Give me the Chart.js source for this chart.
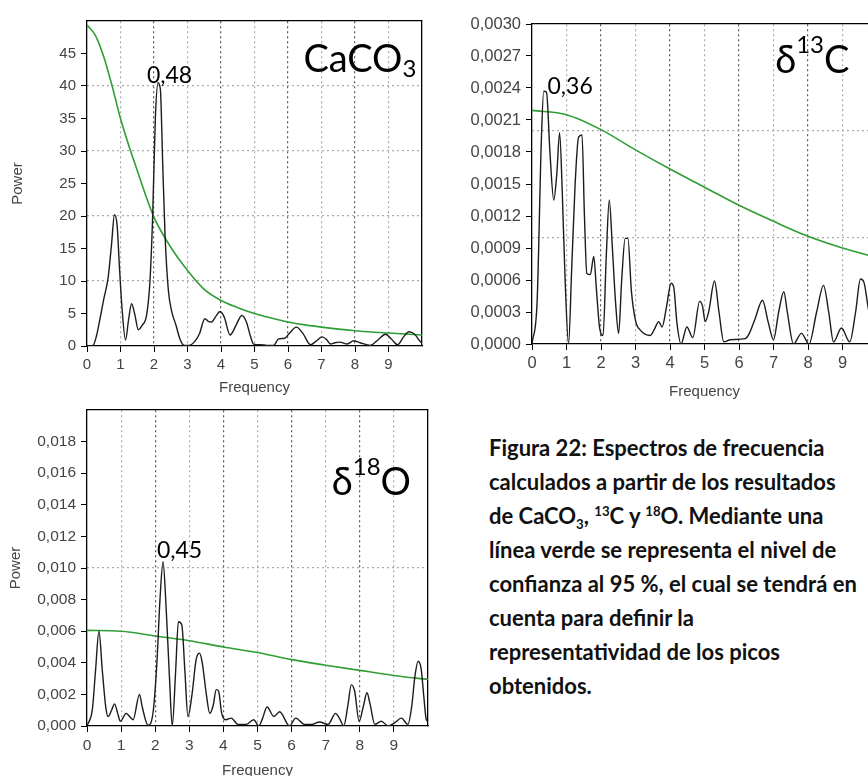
<!DOCTYPE html>
<html lang="es">
<head>
<meta charset="UTF-8">
<title>Espectros de frecuencia</title>
<script src="https://cdn.jsdelivr.net/npm/chart.js"></script>
<style>
  html, body { margin: 0; padding: 0; background: #fff; }
  body { width: 868px; height: 776px; overflow: hidden; position: relative; }
  canvas { position: absolute; }
  #c1 { left: 0; top: 0; }
  #c2 { left: 440px; top: 0; }
  #c3 { left: 0; top: 395px; }
  .caption {
    position: absolute; left: 489px; top: 431px;
    font-family: Lato, "Noto Sans", sans-serif; font-weight: bold;
    font-size: 22px; line-height: 34px; color: #111; white-space: nowrap;
  }
  .caption sub, .caption sup { font-size: 0.6em; line-height: 0; }
</style>
</head>
<body>
<canvas id="c1" width="440" height="395"></canvas>
<canvas id="c2" width="460" height="400"></canvas>
<canvas id="c3" width="440" height="384"></canvas>
<div class="caption">Figura 22: Espectros de frecuencia<br>calculados a partir de los resultados<br>de CaCO<sub>3</sub>, <sup>13</sup>C y <sup>18</sup>O. Mediante una<br>línea verde se representa el nivel de<br>confianza al 95 %, el cual se tendrá en<br>cuenta para definir la<br>representatividad de los picos<br>obtenidos.</div>

<script>
// --- CaCO3 spectrum ---
const freqCaCO3 = [0, 0.18, 0.28, 0.4, 0.5, 0.63, 0.73, 0.82, 0.9, 0.97, 1.05, 1.15, 1.24, 1.33, 1.43, 1.53, 1.65, 1.78, 1.88, 1.96, 2.04, 2.12, 2.19, 2.26, 2.33, 2.43, 2.53, 2.65, 2.78, 2.9, 3.05, 3.2, 3.35, 3.52, 3.62, 3.72, 3.85, 3.97, 4.1, 4.27, 4.45, 4.62, 4.75, 4.88, 4.97, 5.18, 5.37, 5.57, 5.72, 5.9, 6.05, 6.25, 6.45, 6.67, 6.85, 7.02, 7.15, 7.27, 7.4, 7.55, 7.77, 7.96, 8.15, 8.46, 8.7, 8.91, 9.1, 9.27, 9.45, 9.61, 9.78, 9.96, 10];
const powerCaCO3 = [0, 0.1, 1.5, 4.5, 7.2, 10.5, 15.5, 20.2, 18.5, 12, 5.5, 0.9, 4, 6.5, 4.8, 2.5, 3.2, 4.8, 10, 20, 35, 40.5, 39.5, 28, 17, 8.5, 5.3, 3.3, 1, 0.1, 0.1, 0.6, 1.8, 4.2, 3.8, 3.7, 4.6, 5.3, 4.4, 1.7, 3.2, 4.7, 3.8, 1.5, 0.3, 0.2, 0.1, 0.1, 1.1, 1.2, 2.0, 2.9, 1.9, 0.2, 0.8, 1.4, 1.0, 0.3, 0.5, 0.6, 0.3, 0.8, 0.5, 0.1, 1.0, 1.8, 1.0, 0.2, 1.4, 2.2, 1.8, 0.6, 0.5];
const confFreqCaCO3 = [0, 0.25, 0.5, 0.75, 1, 1.25, 1.5, 1.75, 2, 2.5, 3, 3.5, 4, 4.5, 5, 5.5, 6, 6.5, 7, 7.5, 8, 8.5, 9, 9.5, 10];
const confCaCO3 = [49.4, 47.8, 44.5, 40, 35, 30.8, 27, 23.2, 19.8, 15.2, 11.6, 8.7, 7.0, 5.9, 5.0, 4.3, 3.7, 3.25, 2.9, 2.6, 2.35, 2.15, 2.0, 1.85, 1.7];

// --- d13C spectrum ---
const freqC13 = [0, 0.15, 0.27, 0.34, 0.42, 0.52, 0.63, 0.72, 0.8, 0.88, 0.96, 1.06, 1.15, 1.25, 1.35, 1.45, 1.52, 1.59, 1.69, 1.79, 1.87, 1.96, 2.06, 2.15, 2.24, 2.33, 2.42, 2.51, 2.6, 2.7, 2.78, 2.88, 3.0, 3.14, 3.43, 3.55, 3.67, 3.77, 3.9, 4.03, 4.11, 4.2, 4.32, 4.49, 4.66, 4.86, 4.94, 5.02, 5.12, 5.29, 5.42, 5.56, 5.75, 6.18, 6.3, 6.47, 6.68, 6.85, 7.0, 7.15, 7.3, 7.4, 7.58, 7.81, 8.03, 8.25, 8.45, 8.6, 8.74, 8.97, 9.21, 9.38, 9.52, 9.62, 9.74, 9.87, 10];
const powerC13 = [0, 0.00041, 0.0019, 0.00237, 0.00236, 0.0018, 0.00135, 0.0016, 0.00198, 0.0014, 0.0006, 0, 0.0007, 0.0015, 0.00194, 0.00196, 0.0012, 0.00066, 0.00065, 0.00082, 0.0005, 0.00015, 0.00008, 0.0008, 0.00135, 0.0009, 0.0004, 0.0001, 0.0006, 0.00099, 0.00099, 0.0005, 0.00022, 0.00013, 0.00008, 0.00014, 0.00021, 0.00016, 0.00035, 0.00057, 0.00053, 0.0002, 0, 0.00016, 0.00006, 0.0004, 0.00036, 0.00021, 0.0003, 0.00059, 0.0003, 0.00002, 0.00004, 0.00005, 0.0001, 0.00024, 0.00041, 0.0002, 0.00004, 0.0003, 0.00049, 0.0003, 0, 0.0001, 0, 0.0003, 0.00055, 0.0003, 0.00002, 0.00015, 0.00002, 0.0003, 0.00061, 0.00058, 0.00035, 0.0001, 0.00005];
const confFreqC13 = [0, 1, 2, 3, 4, 5, 6, 7, 8, 9, 10];
const confC13 = [0.00219, 0.00215, 0.00201, 0.00182, 0.00164, 0.00147, 0.0013, 0.00115, 0.00101, 0.0009, 0.00081];

// --- d18O spectrum ---
const freqO18 = [0, 0.16, 0.25, 0.35, 0.45, 0.55, 0.62, 0.72, 0.81, 0.9, 0.98, 1.15, 1.25, 1.35, 1.54, 1.62, 1.79, 1.94, 2.05, 2.14, 2.23, 2.32, 2.42, 2.5, 2.6, 2.68, 2.78, 2.87, 2.96, 3.08, 3.2, 3.3, 3.38, 3.5, 3.6, 3.7, 3.79, 3.86, 3.95, 4.07, 4.23, 4.43, 4.67, 4.89, 5.04, 5.15, 5.28, 5.48, 5.65, 5.94, 6.12, 6.38, 6.6, 6.82, 7.07, 7.29, 7.4, 7.53, 7.65, 7.75, 7.85, 7.98, 8.1, 8.21, 8.3, 8.44, 8.63, 8.83, 9.02, 9.22, 9.41, 9.52, 9.62, 9.71, 9.8, 9.88, 9.95, 10];
const powerO18 = [0, 0.0011, 0.0035, 0.006, 0.0035, 0.0012, 0.0006, 0.001, 0.0014, 0.0008, 0.0003, 0.0008, 0.0006, 0.0004, 0.002, 0.0012, 0.00005, 0.0009, 0.004, 0.008, 0.0104, 0.0075, 0.003, 0, 0.0035, 0.0066, 0.0064, 0.0035, 0.0006, 0.002, 0.0042, 0.0046, 0.004, 0.002, 0.0008, 0.0013, 0.0023, 0.0022, 0.0008, 0.0004, 0.0005, 0.0001, 0.0001, 0.0004, 0, 0.0005, 0.0012, 0.0006, 0.0009, 0, 0.0005, 0.0001, 0.0001, 0.00025, 0.0001, 0.0008, 0.0005, 0, 0.0013, 0.0026, 0.0022, 0.0003, 0.0012, 0.0021, 0.0014, 0.0001, 0.0003, 0, 0.0002, 0.0005, 0.0001, 0.0012, 0.0032, 0.0041, 0.0036, 0.0018, 0.0004, 0.0003];
const confFreqO18 = [0, 1, 2, 3, 4, 5, 6, 7, 8, 9, 10];
const confO18 = [0.00605, 0.006, 0.0057, 0.0054, 0.005, 0.00465, 0.0042, 0.00385, 0.00352, 0.0032, 0.00295];

const TICK_FONT = '"Liberation Sans", Arial, sans-serif';
const LABEL_FONT = 'Lato, "Noto Sans", sans-serif';

// draws the big panel labels and peak values at data positions
const textLabels = {
  id: 'textLabels',
  afterDraw(chart, args, opts) {
    const ctx = chart.ctx;
    const xs = chart.scales.x, ys = chart.scales.y;
    (opts.items || []).forEach(item => {
      let px = xs.getPixelForValue(item.x);
      const py = ys.getPixelForValue(item.y);
      ctx.save();
      ctx.fillStyle = '#000';
      ctx.textBaseline = 'alphabetic';
      ctx.textAlign = 'left';
      item.parts.forEach(p => {
        ctx.font = p.size + 'px ' + LABEL_FONT;
        ctx.fillText(p.text, px, py + (p.dy || 0));
        px += ctx.measureText(p.text).width;
      });
      ctx.restore();
    });
  }
};

function pts(xs, ys) {
  return xs.map((v, i) => ({ x: v, y: ys[i] }));
}

function makeSpectrum(id, cfg) {
  const tickFont = { family: TICK_FONT, size: cfg.tickSize };
  const titleFont = { family: TICK_FONT, size: cfg.titleSize, lineHeight: 1 };
  const scales = {
    x: {
      type: 'linear', min: 0, max: 10,
      afterBuildTicks: s => { s.ticks = s.ticks.filter(t => t.value < 10); },
      afterFit: s => { s.height = cfg.xHeight; },
      ticks: { stepSize: 1, color: '#444', font: tickFont, padding: 4 },
      grid: { drawOnChartArea: false, tickLength: 6, tickColor: '#000' },
      border: { color: '#000', width: 1.3 },
      title: { display: true, text: 'Frequency', color: '#444', font: titleFont, padding: { top: 0, bottom: cfg.xTitlePad } }
    },
    xg: {
      type: 'linear', position: 'top', min: 0, max: 10,
      afterFit: s => { s.height = 0; },
      ticks: { display: false, stepSize: 1 },
      grid: {
        drawTicks: false, lineWidth: 1.2,
        color: c => (c.tick.value <= 0 || c.tick.value >= 10) ? 'rgba(0,0,0,0)' : (c.tick.value % 2 === 0 ? '#555' : '#aaa')
      },
      border: { color: '#000', width: 1.3, dash: [2, 3] }
    },
    y: {
      type: 'linear', min: 0, max: cfg.yMax,
      afterBuildTicks: s => { s.ticks = s.ticks.filter(t => t.value <= cfg.yLabelMax + 1e-9); },
      afterFit: s => { s.width = cfg.yWidth; },
      ticks: {
        stepSize: cfg.yStep, color: '#444', font: tickFont, padding: 5,
        callback: v => v.toFixed(cfg.decimals).replace('.', ',')
      },
      grid: { drawOnChartArea: false, tickLength: 6, tickColor: '#000' },
      border: { color: '#000', width: 1.3 },
      title: { display: cfg.yTitle, text: 'Power', color: '#444', font: titleFont, padding: { top: cfg.yTitlePad, bottom: 0 } }
    },
    yg: {
      type: 'linear', position: 'right', min: 0, max: cfg.yMax,
      afterFit: s => { s.width = 0; },
      ticks: { display: false, stepSize: cfg.gridStep },
      grid: {
        drawTicks: false, lineWidth: 1.2,
        color: c => (c.tick.value <= 0 || c.tick.value >= cfg.yMax - 1e-9) ? 'rgba(0,0,0,0)' : '#aaa'
      },
      border: { color: '#000', width: 1.3, dash: [2, 3] }
    }
  };

  return new Chart(document.getElementById(id), {
    type: 'line',
    data: {
      datasets: [
        {
          data: pts(cfg.freq, cfg.power), xAxisID: 'x', yAxisID: 'y',
          borderColor: '#1c1c1c', borderWidth: 1.4, pointRadius: 0,
          cubicInterpolationMode: 'monotone', fill: false
        },
        {
          data: pts(cfg.confFreq, cfg.conf), xAxisID: 'x', yAxisID: 'y',
          borderColor: '#2f9e35', borderWidth: 1.6, pointRadius: 0,
          cubicInterpolationMode: 'monotone', fill: false
        }
      ]
    },
    options: {
      responsive: false,
      animation: false,
      devicePixelRatio: 1,
      layout: { padding: cfg.padding },
      plugins: {
        legend: { display: false },
        tooltip: { enabled: false },
        textLabels: { items: cfg.labels }
      },
      scales: scales
    },
    plugins: [textLabels]
  });
}

makeSpectrum('c1', {
  freq: freqCaCO3, power: powerCaCO3, confFreq: confFreqCaCO3, conf: confCaCO3,
  yMax: 50, yStep: 5, yLabelMax: 45, gridStep: 10, decimals: 0,
  tickSize: 15, titleSize: 15, yTitle: true, yTitlePad: 10, xTitlePad: 0,
  yWidth: 87, xHeight: 49, padding: { top: 21, right: 18, bottom: 0, left: 0 },
  labels: [
    { x: 6.46, y: 42.2, parts: [{ text: 'CaCO', size: 38 }, { text: '3', size: 24, dy: 5 }] },
    { x: 1.79, y: 40.4, parts: [{ text: '0,48', size: 23 }] }
  ]
});

makeSpectrum('c2', {
  freq: freqC13, power: powerC13, confFreq: confFreqC13, conf: confC13,
  yMax: 0.003, yStep: 0.0003, yLabelMax: 0.003, gridStep: 0.001, decimals: 4,
  tickSize: 16.5, titleSize: 15, yTitle: false, yTitlePad: 0, xTitlePad: 1,
  yWidth: 92, xHeight: 56, padding: { top: 24, right: 23, bottom: 0, left: 0 },
  labels: [
    { x: 7.05, y: 0.002545, parts: [{ text: 'δ', size: 38 }, { text: '13', size: 24, dy: -20 }, { text: 'C', size: 38 }] },
    { x: 0.45, y: 0.002341, parts: [{ text: '0,36', size: 23 }] }
  ]
});

makeSpectrum('c3', {
  freq: freqO18, power: powerO18, confFreq: confFreqO18, conf: confO18,
  yMax: 0.02, yStep: 0.002, yLabelMax: 0.018, gridStep: 0.01, decimals: 3,
  tickSize: 15.5, titleSize: 15, yTitle: true, yTitlePad: 8, xTitlePad: 1,
  yWidth: 87, xHeight: 53, padding: { top: 15, right: 12, bottom: 0, left: 0 },
  labels: [
    { x: 7.18, y: 0.01462, parts: [{ text: 'δ', size: 38 }, { text: '18', size: 24, dy: -20 }, { text: 'O', size: 38 }] },
    { x: 2.05, y: 0.01061, parts: [{ text: '0,45', size: 23 }] }
  ]
});
</script>
</body>
</html>
